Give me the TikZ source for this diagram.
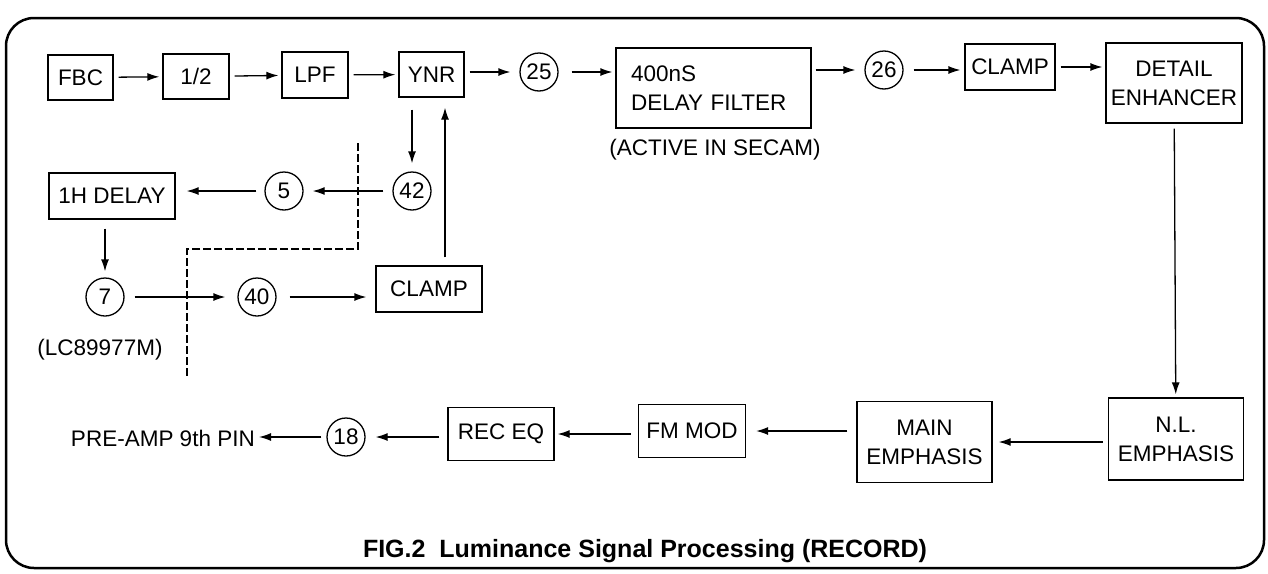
\documentclass[tikz,border=0pt]{standalone}
\usepackage{fontspec}
\setmainfont{Liberation Sans}
\usetikzlibrary{arrows.meta,calc}
\begin{document}
\begin{tikzpicture}[x=1pt,y=-1pt,
  every node/.style={font=\fontsize{22.5}{29}\selectfont, inner sep=0pt},
  blk/.style={draw, line width=1.3pt, align=center},
  pin/.style={draw, circle, line width=1.3pt, minimum size=38pt},
  sig/.style={line width=1.3pt, -{Latex[length=12pt,width=8pt]}, shorten <=5pt, shorten >=3pt},
  bound/.style={line width=1.2pt, dash pattern=on 8pt off 3pt}]
\useasboundingbox (0,0) rectangle (1268,573);
\draw[line width=2.5pt, rounded corners=28pt] (6,18) rectangle (1264,568);

% top row
\node[blk, minimum width=65pt, minimum height=45pt] (fbc) at (80.5,77.5) {FBC};
\node[blk, minimum width=66pt, minimum height=45pt] (half) at (196,76.5) {1/2};
\node[blk, minimum width=66pt, minimum height=46pt] (lpf) at (315,75) {LPF};
\node[blk, minimum width=65pt, minimum height=45pt] (ynr) at (431.5,74.5) {YNR};
\node[pin] (p25) at (539,72) {25};
\node[draw, line width=1.3pt, minimum height=80pt, text width=165pt, align=left, inner xsep=15pt] (dly) at (713.5,88) {400nS\\DELAY FILTER};
\node (act) at (715,150) {(ACTIVE IN SECAM)};
\node[pin] (p26) at (884,70) {26};
\node[blk, minimum width=90pt, minimum height=46pt] (clampa) at (1010,67) {CLAMP};
\node[blk, minimum width=136pt, minimum height=80pt] (det) at (1174,83) {DETAIL\\ENHANCER};

% loop
\node[pin] (p42) at (412,191) {42};
\node[pin] (p5) at (284,191) {5};
\node[blk, minimum width=126pt, minimum height=46pt] (h1) at (112,196) {1H DELAY};
\node[pin] (p7) at (105,297) {7};
\node[pin] (p40) at (257,297) {40};
\node[blk, minimum width=106pt, minimum height=46pt] (clampb) at (429,289) {CLAMP};
\node (lc) at (100,350) {(LC89977M)};

% bottom row
\node[blk, minimum width=135pt, minimum height=82pt] (nl) at (1176,439) {N.L.\\EMPHASIS};
\node[blk, minimum width=135pt, minimum height=81pt] (mainemp) at (924.5,442) {MAIN\\EMPHASIS};
\node[blk, minimum width=107pt, minimum height=53pt] (fm) at (692,431) {FM MOD};
\node[blk, minimum width=106pt, minimum height=53pt] (rec) at (501,434) {REC EQ};
\node[pin] (p18) at (346,437) {18};
\node[anchor=east] (pre) at (255,438) {PRE-AMP 9th PIN};

% title
\node[font=\fontsize{25}{30}\selectfont\bfseries] (title) at (645,551) {FIG.2\ \ Luminance Signal Processing (RECORD)};

% connectors top row
\draw[sig] (fbc) -- (half);
\draw[sig] (half) -- (lpf);
\draw[sig] (lpf) -- (ynr);
\draw[sig, shorten <=5pt, shorten >=9pt] (ynr.east |- p25) -- (p25);
\draw[sig, shorten <=13pt] (p25) -- (dly.west |- p25);
\draw[sig, shorten <=4pt, shorten >=9pt] (dly.east |- p26) -- (p26);
\draw[sig, shorten <=10pt, shorten >=4pt] (p26) -- (p26 -| clampa.west);
\draw[sig] (clampa) -- (det.west |- clampa);
\draw[sig] (det) -- (nl);

% loop connectors
\draw[sig, shorten <=12pt, shorten >=8pt] (ynr.south -| p42) -- (p42);
\draw[sig, shorten <=9pt, shorten >=9pt] (p42) -- (p5);
\draw[sig, shorten <=8pt, shorten >=11pt] (p5) -- (p5 -| h1.east);
\draw[sig, shorten <=9pt, shorten >=6pt] (h1.south -| p7) -- (p7);
\draw[sig, shorten <=10pt, shorten >=12pt] (p7) -- (p40);
\draw[sig, shorten <=13pt, shorten >=9pt] (p40) -- (p40 -| clampb.west);
\draw[sig, shorten <=8pt, shorten >=10pt] ([xshift=16pt]clampb.north) -- ([xshift=16pt]clampb.north |- ynr.south);

% bottom connectors
\draw[sig, shorten >=6pt] (nl.west |- mainemp) -- (mainemp);
\draw[sig, shorten <=9pt, shorten >=10pt] (mainemp.west |- fm) -- (fm);
\draw[sig, shorten <=7pt, shorten >=3pt] (fm.west |- rec) -- (rec);
\draw[sig, shorten <=8pt, shorten >=10pt] (rec.west |- p18) -- (p18);
\draw[sig, shorten <=5pt, shorten >=4pt] (p18) -- (p18 -| pre.east);

% IC boundary
\draw[bound] (358,143) -- (358,249) -- (187,249) -- (187,378);
\end{tikzpicture}
\end{document}
